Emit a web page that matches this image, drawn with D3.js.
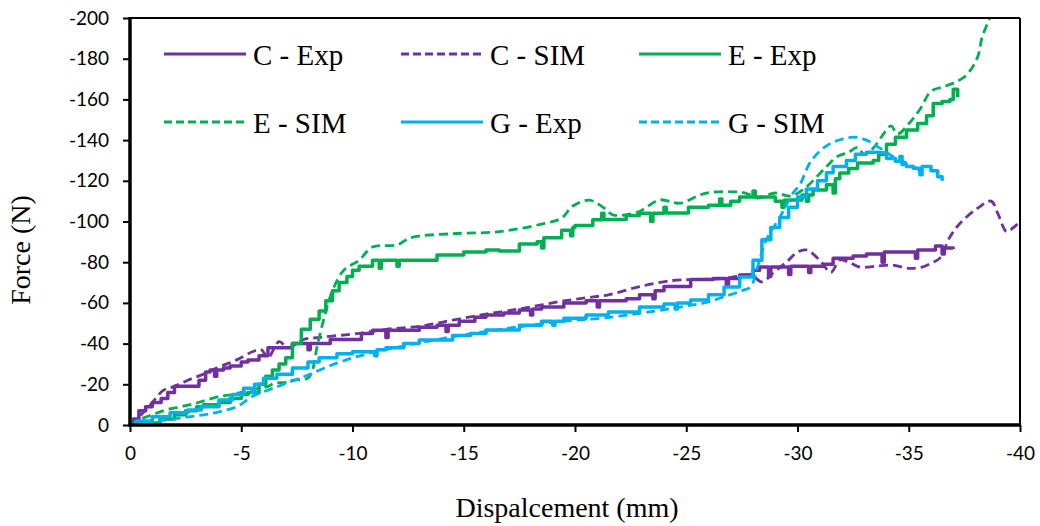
<!DOCTYPE html>
<html>
<head>
<meta charset="utf-8">
<script src="https://cdn.jsdelivr.net/npm/d3@7"></script>
<style>
  body { margin: 0; background: #fff; }
  .title, .legend text { font-family: "Liberation Serif", "Times New Roman", serif; fill: #000; }
</style>
</head>
<body>
<svg id="chart" width="1040" height="526"></svg>
<script>
// values: [displacement mm, force N]
var xTicks = [0, -5, -10, -15, -20, -25, -30, -35, -40];
var yTicks = [0, -20, -40, -60, -80, -100, -120, -140, -160, -180, -200];

var cExp = [[0,0],[-0.15,-3],[-0.4,-7],[-0.7,-9],[-1.0,-11],[-1.4,-13],[-1.7,-16],[-2.0,-19],[-2.9,-19],[-3.1,-22],
  [-3.4,-26],[-3.6,-27],[-3.8,-24],[-3.9,-27],[-4.2,-28],[-4.5,-29],[-5.0,-31],[-5.3,-32],[-5.8,-34],[-6.2,-38],
  [-7.0,-38],[-7.3,-40],[-8.0,-37],[-8.1,-40],[-8.5,-40],[-9.0,-42],[-10.0,-42],[-10.4,-45],[-10.9,-46.5],
  [-11.5,-43],[-11.6,-46.5],[-12.5,-46.5],[-13.0,-48],[-13.8,-49],[-14.2,-46],[-14.3,-49],[-14.8,-51],[-15.5,-53],
  [-16.0,-54],[-16.8,-55],[-17.5,-56.5],[-18.0,-54],[-18.1,-57],[-18.5,-58],[-19.5,-60],[-20.5,-61],[-21.0,-58],
  [-21.1,-61],[-21.5,-61],[-22.3,-62],[-22.9,-64],[-23.5,-62],[-23.6,-66],[-24.0,-68],[-25.2,-71.5],[-26.2,-72],
  [-26.8,-69],[-26.9,-72],[-27.4,-73.7],[-28.0,-76],[-28.3,-77.6],[-28.7,-73],[-28.8,-77.6],[-29.6,-74],[-29.7,-78],
  [-30.5,-75],[-30.6,-78],[-31.2,-79],[-31.6,-82],[-32.5,-83],[-33.1,-84],[-33.8,-80],[-33.9,-85],[-34.5,-85],
  [-35.3,-82],[-35.4,-86],[-36.2,-88],[-36.5,-84],[-36.6,-87],[-37.0,-86.5]];

var cSim = [[0,0],[-0.5,-5],[-1.0,-11],[-1.5,-17],[-2.0,-19],[-2.6,-22],[-3.3,-25],[-4.0,-28.5],[-4.8,-32],[-5.5,-36],
  [-5.9,-37],[-6.2,-33],[-6.7,-41],[-7.1,-38],[-7.8,-42],[-8.5,-43],[-9.4,-44],[-10.3,-45],[-11.5,-47],[-13.0,-48.5],
  [-14.5,-51.5],[-16.0,-54.5],[-17.5,-57],[-18.5,-59],[-19.5,-61],[-20.5,-62.5],[-21.5,-64],[-22.9,-68],[-24.4,-71],
  [-25.5,-71.5],[-26.7,-72],[-27.9,-73.7],[-28.4,-70.3],[-28.9,-74.7],[-29.5,-80],[-30.0,-85],[-30.4,-86],[-31.0,-81],
  [-31.5,-75],[-31.9,-81],[-32.3,-80],[-32.8,-77.6],[-33.5,-78],[-34.2,-78.6],[-35.0,-77],[-35.6,-77.6],[-36.1,-80],
  [-36.4,-82],[-36.85,-92.4],[-37.3,-99],[-38.1,-106.6],[-38.7,-110],[-39.0,-104],[-39.4,-95],[-39.7,-97],[-40.0,-100]];

var eExp = [[0,0],[-0.5,-1],[-1.35,-3],[-2.0,-5],[-2.5,-7],[-3.0,-9],[-3.3,-10],[-4.0,-11],[-4.5,-13],[-5.0,-15],
  [-5.3,-16],[-5.8,-20],[-6.1,-24],[-6.4,-27],[-6.7,-30],[-7.0,-33],[-7.3,-40],[-7.7,-47],[-8.1,-52],[-8.5,-56],
  [-8.8,-61],[-9.1,-66],[-9.4,-70],[-9.75,-73],[-10.0,-76],[-10.3,-78],[-10.9,-81],[-11.2,-77],[-11.3,-81],
  [-11.9,-81],[-12.0,-78],[-12.1,-81],[-13.0,-81],[-13.8,-83.5],[-15.0,-85],[-16.0,-86],[-16.6,-85.5],[-17.5,-89],
  [-18.3,-90],[-18.5,-87],[-18.6,-92],[-19.4,-95.7],[-19.8,-93],[-19.9,-97],[-20.0,-98],[-20.8,-100.8],[-21.2,-104],
  [-21.3,-101],[-21.5,-101],[-22.3,-103],[-22.9,-104],[-23.4,-100],[-23.5,-104],[-24.0,-107],[-24.1,-104.2],
  [-24.4,-104.2],[-25.1,-107],[-26.0,-108],[-26.5,-111],[-26.6,-108],[-27.0,-110],[-27.4,-112],[-28.0,-115],
  [-28.1,-112],[-28.5,-112],[-29.0,-110],[-29.3,-107],[-29.4,-110.5],[-29.7,-110.6],[-30.2,-113],[-30.4,-110],
  [-30.5,-113],[-30.7,-115.5],[-31.3,-118],[-31.6,-114],[-31.7,-121],[-31.9,-123.8],[-32.3,-126],[-32.7,-128.7],
  [-33.4,-130],[-33.65,-133],[-34.0,-138],[-34.4,-141.4],[-34.9,-145],[-35.4,-148.2],[-35.8,-152],[-36.1,-158],
  [-36.5,-159],[-36.85,-160],[-37.0,-165],[-37.2,-161]];

var eSim = [[0,0],[-0.5,-3],[-1.0,-5],[-1.65,-7.5],[-2.5,-9.5],[-3.15,-11.3],[-4.0,-14],[-4.6,-15],[-5.5,-17.5],
  [-6.2,-19],[-6.5,-20.5],[-7.0,-21],[-7.3,-22],[-8.0,-23],[-8.2,-27],[-8.4,-38],[-8.7,-51.6],[-9.1,-66],[-9.6,-76],
  [-10.3,-81],[-10.9,-87.5],[-12.0,-88.5],[-12.6,-92],[-14.5,-94],[-16.6,-95],[-18.6,-99],[-19.4,-101.7],[-19.9,-107.6],
  [-20.65,-110.5],[-21.3,-106.7],[-21.7,-103.3],[-22.8,-104.5],[-23.8,-110.6],[-24.7,-109],[-25.9,-114],[-27.5,-114.3],
  [-27.9,-113],[-28.2,-111.5],[-29.0,-114],[-29.7,-112.5],[-30.4,-117],[-31.3,-127],[-31.8,-132],[-32.3,-134],
  [-32.7,-136.4],[-33.0,-133],[-33.4,-136],[-33.8,-142],[-34.2,-147],[-34.5,-143],[-35.0,-148],[-35.5,-155],
  [-36.0,-164],[-36.5,-166],[-37.0,-168],[-37.6,-172],[-38.1,-181],[-38.3,-190.7],[-38.65,-200]];

var gExp = [[0,0],[-0.3,-2],[-1.0,-4],[-1.8,-6],[-2.6,-7.4],[-3.2,-9],[-4.0,-12.3],[-4.6,-15],[-5.1,-18],
  [-5.5,-16],[-5.6,-20],[-6.0,-23],[-6.6,-25],[-7.3,-28],[-8.0,-31],[-8.5,-33],[-9.3,-35],[-10.0,-36],[-11.0,-34],
  [-11.1,-37],[-11.5,-38],[-12.3,-40],[-13.0,-41.8],[-14.5,-44],[-15.3,-45],[-16.0,-46.7],[-17.5,-49],[-18.5,-51],
  [-19.0,-49],[-19.1,-51],[-19.5,-52.5],[-20.5,-54],[-21.5,-55.5],[-22.9,-58],[-24.0,-59.5],[-24.5,-57],[-24.6,-60],
  [-25.2,-61.4],[-26.0,-64],[-26.7,-67.8],[-27.4,-72.7],[-28.0,-81],[-28.4,-91],[-28.8,-97],[-29.2,-102],
  [-29.6,-107],[-30.0,-112],[-30.4,-116],[-30.9,-120],[-31.3,-124],[-31.6,-127],[-32.2,-130],[-32.6,-133],[-33.1,-134],
  [-33.65,-133.8],[-34.0,-131],[-34.4,-129.6],[-34.6,-132],[-34.7,-128],[-34.9,-127],[-35.2,-126.2],[-35.5,-123],
  [-35.6,-127],[-36.0,-125],[-36.3,-122],[-36.5,-120]];

var gSim = [[0,0],[-0.5,-1],[-1.0,-1.6],[-2.0,-3],[-2.6,-4],[-3.3,-5],[-4.0,-6.5],[-4.8,-9],[-5.5,-14],[-6.6,-18.8],
  [-7.8,-23.7],[-9.3,-30.4],[-10.8,-35.4],[-13.0,-40.3],[-14.5,-43.4],[-16.0,-46],[-17.5,-48.3],[-19.5,-51],
  [-21.3,-52.6],[-23.6,-56],[-25.0,-58.5],[-25.9,-60.2],[-26.7,-63],[-27.5,-66],[-27.9,-68],[-28.2,-77.6],[-28.6,-91],
  [-29.2,-102],[-29.8,-114],[-30.1,-118],[-30.6,-129.6],[-31.3,-137.2],[-32.0,-140.5],[-32.6,-141.4],[-33.1,-140],
  [-33.65,-136.4],[-34.4,-131.2],[-34.9,-128.7],[-35.6,-124.5]];

var purple = "#7030A0", green = "#00B050", blue = "#00B0F0";

var series = [
  {name: "C - Exp", data: cExp, color: purple, sim: false},
  {name: "C - SIM", data: cSim, color: purple, sim: true},
  {name: "E - Exp", data: eExp, color: green, sim: false},
  {name: "E - SIM", data: eSim, color: green, sim: true},
  {name: "G - Exp", data: gExp, color: blue, sim: false},
  {name: "G - SIM", data: gSim, color: blue, sim: true}
];

var plotL = 130, plotT = 18, plotR = 1020, plotB = 425;

var svg = d3.select("#chart");
svg.append("rect").attr("width", 1040).attr("height", 526).attr("fill", "#fff");

var x = d3.scaleLinear().domain([0, -40]).range([plotL, plotR]);
var y = d3.scaleLinear().domain([0, -200]).range([plotB, plotT]);

svg.append("clipPath").attr("id", "plot")
  .append("rect").attr("x", plotL).attr("y", plotT).attr("width", plotR - plotL).attr("height", plotB - plotT);

var stepLine = d3.line().x(d => x(d[0])).y(d => y(d[1])).curve(d3.curveStepAfter);
var smoothLine = d3.line().x(d => x(d[0])).y(d => y(d[1])).curve(d3.curveCatmullRom.alpha(0.5));

var lines = svg.append("g").attr("clip-path", "url(#plot)");
series.forEach(s => {
  lines.append("path")
    .datum(s.data)
    .attr("fill", "none")
    .attr("stroke", s.color)
    .attr("stroke-width", s.sim ? 2.8 : 3.5)
    .attr("stroke-dasharray", s.sim ? "9,5" : null)
    .attr("stroke-linejoin", "round")
    .attr("d", s.sim ? smoothLine : stepLine);
});

// frame: thin top/right, heavy left/bottom
svg.append("line").attr("x1", plotL).attr("x2", plotR).attr("y1", plotT).attr("y2", plotT)
  .attr("stroke", "#000").attr("stroke-width", 2);
svg.append("line").attr("x1", plotR).attr("x2", plotR).attr("y1", plotT).attr("y2", plotB)
  .attr("stroke", "#000").attr("stroke-width", 2);

var xAxis = svg.append("g").attr("transform", "translate(0," + plotB + ")")
  .call(d3.axisBottom(x).tickValues(xTicks).tickFormat(d => String(d)).tickSize(7).tickPadding(15));
var yAxis = svg.append("g").attr("transform", "translate(" + plotL + ",0)")
  .call(d3.axisLeft(y).tickValues(yTicks).tickFormat(d => String(d)).tickSize(7).tickPadding(14));

[xAxis, yAxis].forEach(a => {
  a.select(".domain").remove();
  a.selectAll(".tick line").attr("stroke", "#000").attr("stroke-width", 2);
  a.selectAll(".tick text")
    .attr("fill", "#000")
    .style("font-family", "Lato, 'Open Sans', sans-serif")
    .style("font-size", "19px");
});

svg.append("line").attr("x1", plotL).attr("x2", plotL).attr("y1", plotT - 1).attr("y2", plotB + 1.5)
  .attr("stroke", "#000").attr("stroke-width", 3.5);
svg.append("line").attr("x1", plotL - 1.5).attr("x2", plotR + 1).attr("y1", plotB).attr("y2", plotB)
  .attr("stroke", "#000").attr("stroke-width", 3.5);

// axis titles
svg.append("text").attr("class", "title")
  .attr("x", 567).attr("y", 517)
  .attr("text-anchor", "middle").style("font-size", "28px")
  .text("Dispalcement (mm)");
svg.append("text").attr("class", "title")
  .attr("transform", "translate(30,250) rotate(-90)")
  .attr("text-anchor", "middle").style("font-size", "28px")
  .text("Force (N)");

// legend, 3 columns x 2 rows
var legendCols = [164, 401, 639], legendRows = [54, 122];
var legend = svg.append("g").attr("class", "legend");
series.forEach((s, i) => {
  var lx = legendCols[i % 3], ly = legendRows[Math.floor(i / 3)];
  legend.append("line")
    .attr("x1", lx).attr("x2", lx + 82).attr("y1", ly).attr("y2", ly)
    .attr("stroke", s.color).attr("stroke-width", 3)
    .attr("stroke-dasharray", s.sim ? "8,4" : null);
  legend.append("text")
    .attr("x", lx + 89).attr("y", ly + 10.5)
    .style("font-size", "29px")
    .text(s.name);
});
</script>
</body>
</html>
